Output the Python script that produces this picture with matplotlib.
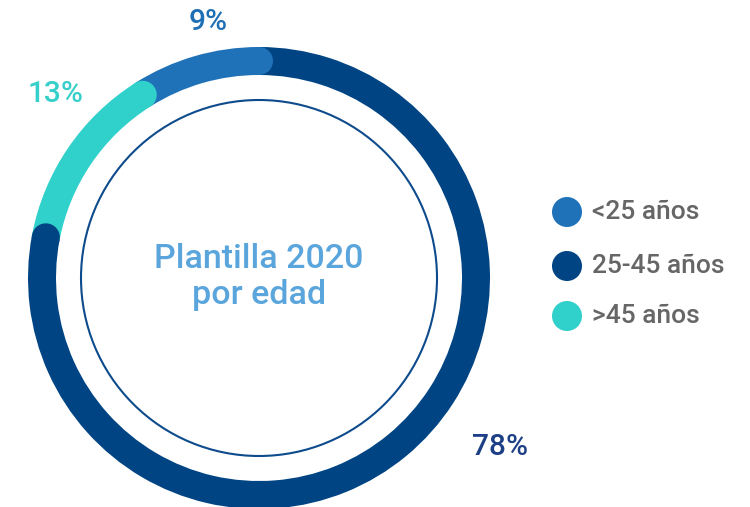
import matplotlib
matplotlib.use("Agg")
import matplotlib.pyplot as plt
from matplotlib.patches import Wedge, Circle
import numpy as np

plt.rcParams['font.family'] = ['Roboto', 'DejaVu Sans']

# Data
categories = ['<25 años', '25-45 años', '>45 años']
values = [9, 78, 13]
colors = ['#1f72b8', '#004483', '#30d0cb']
# ring order, clockwise from 12 o'clock
ring_order = [1, 2, 0]
pct_labels = ['9%', '78%', '13%']
pct_colors = ['#1f6fb5', '#1d3f86', '#36cfc9']
center_title = 'Plantilla 2020\npor edad'

W, H, DPI = 750, 507, 100
fig = plt.figure(figsize=(W / DPI, H / DPI), dpi=DPI)
ax = fig.add_axes([0, 0, 1, 1])
ax.set_xlim(0, W)
ax.set_ylim(H, 0)
ax.set_aspect('equal')
ax.axis('off')

cx, cy = 259, 278
r_out, ring_w = 231, 28
r_mid = r_out - ring_w / 2

total = sum(values)
start = 0.0
caps = []
for i in ring_order:
    span = values[i] / total * 360
    t1 = -90 + start
    t2 = -90 + start + span
    ax.add_patch(Wedge((cx, cy), r_out, t1, t2, width=ring_w,
                       facecolor=colors[i], edgecolor='none'))
    caps.append((t2, colors[i]))
    start += span
for t, c in caps:
    a = np.deg2rad(t)
    ax.add_patch(Circle((cx + r_mid * np.cos(a), cy + r_mid * np.sin(a)),
                        ring_w / 2, facecolor=c, edgecolor='none'))

# inner thin circle
ax.add_patch(Circle((cx, cy), 178, fill=False, edgecolor='#0d4b8c', lw=1.5))

# center text
ax.text(cx, 277, center_title, ha='center', va='center', fontsize=24.5,
        fontweight='medium', color='#5aa5dc', linespacing=1.15)

# percentage labels
pct_pos = [(208, 22), (500, 447), (55, 94)]
for lbl, col, (x, y) in zip(pct_labels, pct_colors, pct_pos):
    ax.text(x, y, lbl, ha='center', va='center', fontsize=21.5,
            fontweight='medium', color=col)

# legend
leg_y = [212, 266, 316]
for cat, col, y in zip(categories, colors, leg_y):
    ax.add_patch(Circle((567, y), 15, facecolor=col, edgecolor='none'))
    ax.text(592, y, cat, ha='left', va='center', fontsize=19,
            fontweight='medium', color='#666666')

fig.savefig('out.png', dpi=DPI)
